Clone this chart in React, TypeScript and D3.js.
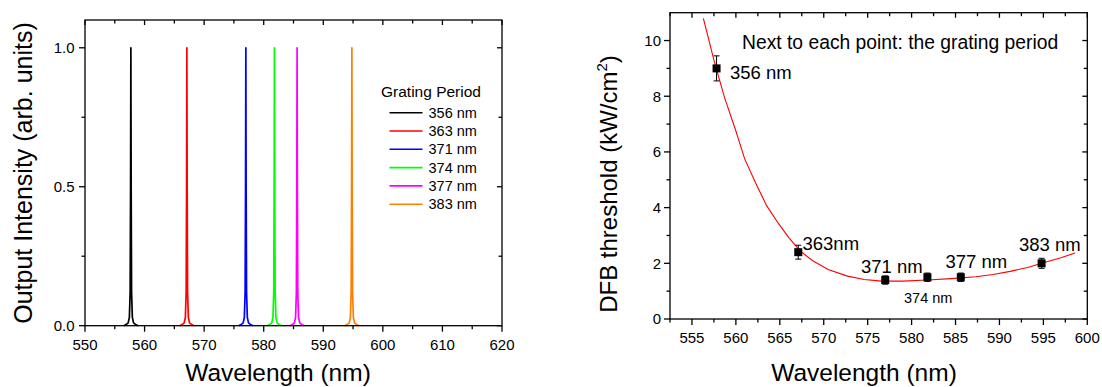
import React from "react";
import * as d3 from "d3";

// ---------- Left panel data ----------
const gratingPeriods = ["356 nm", "363 nm", "371 nm", "374 nm", "377 nm", "383 nm"];
const peakCenters = [557.7, 567.1, 577.0, 581.8, 585.6, 594.8];
const peakColors = ["#000000", "#ff0000", "#0000ff", "#00ff00", "#ff00ff", "#ff8000"];
// measured line-shape of each emission peak (offset from centre in nm, normalised intensity)
const peakOffsets = [-1.2, -0.8, -0.45, -0.25, -0.12, -0.05, 0, 0.05, 0.12, 0.25, 0.45, 0.8, 1.2];
const peakShape = [0, 0.004, 0.01, 0.03, 0.12, 0.5, 1.0, 0.5, 0.12, 0.03, 0.01, 0.004, 0];
const leftXTicks = [550, 560, 570, 580, 590, 600, 610, 620];
const leftXMinor = [555, 565, 575, 585, 595, 605, 615];
const leftYTicks = [0, 0.5, 1.0];
const leftYLabels = ["0.0", "0.5", "1.0"];
const leftYMinor = [0.25, 0.75];

// ---------- Right panel data ----------
const pointWavelengths = [557.8, 567.1, 577.0, 581.8, 585.6, 594.8];
const pointThresholds = [9.0, 2.4, 1.4, 1.5, 1.5, 2.0];
const pointErrors = [0.45, 0.25, 0.15, 0.15, 0.15, 0.18];
const fitWavelengths = [556.3, 557.5, 558.7, 560.0, 561.0, 562.3, 563.5, 564.8, 566.0, 567.3, 568.7, 570.5, 572.7, 574.6, 576.6, 579.0, 581.8, 584.5, 587.3, 589.3, 591.2, 593.2, 595.2, 597.0, 598.6];
const fitThresholds = [10.8, 9.3, 7.96, 6.75, 5.75, 4.85, 4.07, 3.45, 2.93, 2.45, 2.1, 1.78, 1.54, 1.42, 1.36, 1.36, 1.4, 1.45, 1.52, 1.6, 1.71, 1.85, 2.04, 2.2, 2.37];
const rightXTicks = [555, 560, 565, 570, 575, 580, 585, 590, 595, 600];
const rightXMinor = [552.5, 557.5, 562.5, 567.5, 572.5, 577.5, 582.5, 587.5, 592.5, 597.5];
const rightYTicks = [0, 2, 4, 6, 8, 10];
const rightYMinor = [1, 3, 5, 7, 9];

const FONT = "'Liberation Sans', Arial, Helvetica, sans-serif";

function Frame({ x0, x1, y0, y1, xs, ys, xTicks, xMinor, yTicks, yMinor }: any) {
  const MAJ = 6;
  const MIN = 3.5;
  const els: any[] = [];
  xTicks.forEach((t: number, i: number) => {
    const x = xs(t);
    els.push(<line key={"bx" + i} x1={x} x2={x} y1={y0} y2={y0 + MAJ} />);
    els.push(<line key={"tx" + i} x1={x} x2={x} y1={y1} y2={y1 + MAJ - 1} />);
  });
  xMinor.forEach((t: number, i: number) => {
    const x = xs(t);
    els.push(<line key={"bxm" + i} x1={x} x2={x} y1={y0} y2={y0 + MIN} />);
    els.push(<line key={"txm" + i} x1={x} x2={x} y1={y1} y2={y1 + MIN} />);
  });
  yTicks.forEach((t: number, i: number) => {
    const y = ys(t);
    els.push(<line key={"ly" + i} x1={x0 - MAJ} x2={x0} y1={y} y2={y} />);
    els.push(<line key={"ry" + i} x1={x1 - MAJ + 1} x2={x1} y1={y} y2={y} />);
  });
  yMinor.forEach((t: number, i: number) => {
    const y = ys(t);
    els.push(<line key={"lym" + i} x1={x0 - MIN} x2={x0} y1={y} y2={y} />);
    els.push(<line key={"rym" + i} x1={x1 - MIN} x2={x1} y1={y} y2={y} />);
  });
  return (
    <g stroke="#000" strokeWidth={1.3} fill="none">
      <rect x={x0} y={y1} width={x1 - x0} height={y0 - y1} />
      {els}
    </g>
  );
}

export default function App() {
  // left panel scales
  const xL = d3.scaleLinear().domain([550, 620]).range([85, 502]);
  const yL = d3.scaleLinear().domain([0, 1.1]).range([325.7, 20]);
  // right panel scales
  const xR = d3.scaleLinear().domain([552.5, 600]).range([670, 1087.3]);
  const yR = d3.scaleLinear().domain([0, 11]).range([319, 12.7]);

  const peakLine = d3
    .line<[number, number]>()
    .x((d) => xL(d[0]))
    .y((d) => yL(d[1]));

  const fitLine = d3
    .line<[number, number]>()
    .x((d) => xR(d[0]))
    .y((d) => yR(d[1]));

  const fitData: [number, number][] = fitWavelengths.map((w, i) => [w, fitThresholds[i]]);

  const legendRow0 = 117.7;
  const legendStep = 18.3;

  return (
    <svg
      width={1102}
      height={387}
      style={{ position: "absolute", left: 0, top: 0, background: "#fff" }}
      fontFamily={FONT}
    >
      <rect x={0} y={0} width={1102} height={387} fill="#fff" />

      {/* ================= LEFT PANEL ================= */}
      {peakCenters.map((c, i) => {
        const pts: [number, number][] = peakOffsets.map((o, j) => [c + o, peakShape[j]]);
        return (
          <path
            key={"pk" + i}
            d={peakLine(pts) || ""}
            fill="none"
            stroke={peakColors[i]}
            strokeWidth={1.7}
            strokeLinejoin="round"
          />
        );
      })}
      <Frame
        x0={85}
        x1={502}
        y0={325.7}
        y1={20}
        xs={xL}
        ys={yL}
        xTicks={leftXTicks}
        xMinor={leftXMinor}
        yTicks={leftYTicks}
        yMinor={leftYMinor}
      />
      {leftXTicks.map((t, i) => (
        <text key={"lxl" + i} x={xL(t)} y={349.5} textAnchor="middle" fontSize={15} fill="#000">
          {t}
        </text>
      ))}
      {leftYTicks.map((t, i) => (
        <text key={"lyl" + i} x={74.5} y={yL(t) + 5.3} textAnchor="end" fontSize={15} fill="#000">
          {leftYLabels[i]}
        </text>
      ))}
      <text x={278} y={381} textAnchor="middle" fontSize={24.5} fill="#000">
        Wavelength (nm)
      </text>
      <text transform="translate(31.5,173) rotate(-90)" textAnchor="middle" fontSize={25} fill="#000">
        Output Intensity (arb. units)
      </text>

      {/* legend */}
      <text x={381} y={96.7} fontSize={15.5} fill="#000">
        Grating Period
      </text>
      {gratingPeriods.map((g, i) => {
        const yb = legendRow0 + i * legendStep;
        return (
          <g key={"lg" + i}>
            <line x1={389.5} x2={422.5} y1={yb - 5} y2={yb - 5} stroke={peakColors[i]} strokeWidth={1.6} />
            <text x={428.5} y={yb} fontSize={14.5} fill="#000">
              {g}
            </text>
          </g>
        );
      })}

      {/* ================= RIGHT PANEL ================= */}
      <path d={fitLine(fitData) || ""} fill="none" stroke="#ff0000" strokeWidth={1.1} />
      {pointWavelengths.map((w, i) => {
        const x = xR(w);
        const y = yR(pointThresholds[i]);
        const yt = yR(pointThresholds[i] + pointErrors[i]);
        const yb = yR(pointThresholds[i] - pointErrors[i]);
        return (
          <g key={"pt" + i}>
            <g stroke="#000" strokeWidth={1}>
              <line x1={x} x2={x} y1={yt} y2={yb} />
              <line x1={x - 3} x2={x + 3} y1={yt} y2={yt} />
              <line x1={x - 3} x2={x + 3} y1={yb} y2={yb} />
            </g>
            <rect x={x - 4} y={y - 4} width={8} height={8} fill="#000" />
          </g>
        );
      })}
      <Frame
        x0={670}
        x1={1087.3}
        y0={319}
        y1={12.7}
        xs={xR}
        ys={yR}
        xTicks={rightXTicks}
        xMinor={rightXMinor}
        yTicks={rightYTicks}
        yMinor={rightYMinor}
      />
      {rightXTicks.map((t, i) => (
        <text key={"rxl" + i} x={xR(t)} y={342.5} textAnchor="middle" fontSize={15} fill="#000">
          {t}
        </text>
      ))}
      {rightYTicks.map((t, i) => (
        <text key={"ryl" + i} x={661} y={yR(t) + 5.3} textAnchor="end" fontSize={15} fill="#000">
          {t}
        </text>
      ))}
      <text x={864} y={381} textAnchor="middle" fontSize={24.5} fill="#000">
        Wavelength (nm)
      </text>
      <text transform="translate(616.5,184) rotate(-90)" textAnchor="middle" fontSize={24} fill="#000">
        DFB threshold (kW/cm
        <tspan dy={-10} fontSize={15}>
          2
        </tspan>
        <tspan dy={10}>)</tspan>
      </text>

      {/* annotations */}
      <text x={742} y={48.5} fontSize={19.3} fill="#000">
        Next to each point: the grating period
      </text>
      <text x={730} y={78.5} fontSize={18.5} fill="#000">356 nm</text>
      <text x={802.5} y={249.5} fontSize={18.5} fill="#000">363nm</text>
      <text x={861} y={272.7} fontSize={18.5} fill="#000">371 nm</text>
      <text x={945.5} y={267.7} fontSize={18.5} fill="#000">377 nm</text>
      <text x={1019} y={251} fontSize={18.5} fill="#000">383 nm</text>
      <text x={904} y={303.3} fontSize={14.5} fill="#000">374 nm</text>
    </svg>
  );
}
